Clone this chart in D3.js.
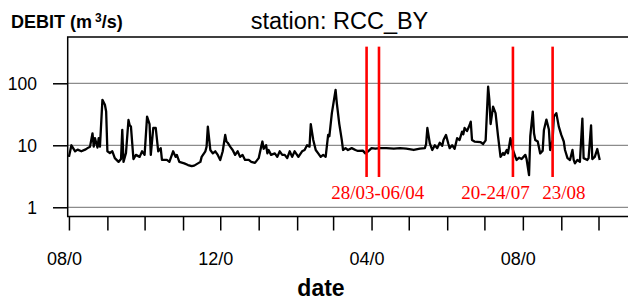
<!DOCTYPE html>
<html>
<head>
<meta charset="utf-8">
<script src="https://cdn.jsdelivr.net/npm/d3@7"></script>
<style>
  html, body { margin: 0; padding: 0; background: #fff; }
  svg { display: block; }
</style>
</head>
<body>
<svg id="chart" width="628" height="301"></svg>
<script>
'use strict';

// Daily flow at station RCC_BY
// days = offset in days from startDate, flow = m3/s
const startDate = '2007-08-01';
const days = [
  0, 2, 5, 7, 10, 13, 15, 17, 19, 20, 21, 23, 24, 25, 27, 29, 30, 31, 33, 35,
  37, 40, 42, 43, 44, 46, 48, 49, 50, 52, 54, 57, 59, 61, 63, 65, 66, 68, 70, 72,
  74, 75, 79, 81, 84, 86, 87, 89, 93, 96, 99, 101, 106, 107, 110, 111, 112, 114, 116, 118,
  120, 122, 124, 126, 127, 128, 130, 132, 134, 136, 138, 140, 142, 145, 147, 150, 153, 155, 156, 157,
  159, 160, 161, 163, 166, 168, 170, 172, 174, 176, 178, 180, 182, 185, 188, 190, 192, 194, 195, 197,
  199, 201, 203, 205, 207, 209, 210, 212, 215, 216, 218, 220, 221, 223, 225, 228, 231, 233, 237, 239,
  241, 244, 247, 251, 256, 262, 267, 272, 278, 283, 287, 288, 289, 291, 293, 295, 297, 299, 301, 302,
  304, 306, 307, 309, 311, 313, 315, 317, 318, 319, 321, 323, 324, 325, 327, 332, 334, 336, 338, 339,
  340, 342, 344, 346, 348, 350, 351, 353, 354, 356, 358, 360, 361, 363, 365, 368, 369, 371, 372, 374,
  375, 376, 378, 380, 382, 383, 385, 387, 388, 390, 391, 393, 395, 397, 399, 400, 402, 404, 406, 407,
  408, 410, 412, 414, 415, 418, 419, 421, 422, 424, 426, 428
];
const flow = [
  6.5, 10, 8, 8.5, 8, 8.5, 9, 9.5, 15.6, 9.5, 13, 9.2, 13, 9.5, 54, 45, 35, 8, 7.5, 8,
  6.2, 5.4, 6, 17.7, 5.4, 7.5, 25.6, 21, 20, 6, 7, 6.5, 8, 7, 29, 22, 7, 19, 19, 8,
  9, 5.8, 5.8, 5.4, 8, 6.5, 7, 5.4, 5.1, 4.8, 4.6, 4.7, 5.4, 6.5, 8, 9.5, 20, 8.4, 7.4, 8,
  7, 5.8, 8, 14.7, 11.5, 11, 9.5, 8.4, 7, 8, 6.5, 7, 5.8, 5.8, 5.4, 5.2, 6.2, 9.5, 11.5, 8.8,
  10, 7.4, 8.4, 7, 7.4, 6.5, 8, 7, 7, 6.2, 8, 6.5, 8, 6.5, 8, 8.4, 10, 9.5, 22, 12.2,
  8.4, 7.4, 6.5, 7, 6.5, 14.7, 14, 33, 78, 48, 22, 12.2, 8.4, 9, 8.4, 9, 8.4, 8.1, 8.2, 7.4,
  7.9, 9, 8.8, 9, 9, 8.8, 9, 8.8, 8.4, 8.8, 9, 10.5, 19, 10.7, 8.4, 10, 9, 11, 9.8, 12.2,
  14.7, 10.5, 9, 10, 8.8, 13, 12.2, 16.6, 15, 19, 17, 21, 24, 12.2, 11.5, 11.2, 10.5, 12, 88, 54,
  22, 42, 33, 14, 6.5, 7.5, 7, 8.4, 7.4, 13, 8.4, 6.5, 5.8, 6.3, 6, 7, 6, 3.3, 14, 35,
  15.6, 12.2, 11.5, 7.4, 8.2, 17.7, 26, 18, 8.4, 12.2, 29, 33, 20, 14.7, 11.5, 8.4, 6.2, 5.8, 8.4, 5.8,
  5.1, 5.8, 5.4, 27, 6.2, 5.8, 6.2, 21, 6, 6.5, 8.7, 5.8
];

// event markers (red lines) and their labels
const eventDates = ['2008-03-28', '2008-04-07', '2008-07-24', '2008-08-25'];
const eventLabels = ['28/03-06/04', '20-24/07', '23/08'];
const eventLabelDates = ['2008-04-06', '2008-07-10', '2008-09-03'];

// axis ticks
const yTicks = [1, 10, 100];
const xTickLabels = ['08/0', '12/0', '04/0', '08/0'];

const parse = d3.utcParse('%Y-%m-%d');
const t0 = parse(startDate);
const data = days.map((d, i) => ({date: d3.utcDay.offset(t0, d), value: flow[i]}));

const svg = d3.select('#chart');
const W = 628;
const plotLeft = 67.7, plotTop = 37, plotBottom = 216.5, plotRight = W + 20;

const x = d3.scaleUtc()
  .domain([parse('2007-07-31'), parse('2008-10-01')])
  .range([plotLeft, 598.5]);

const y = d3.scaleLog()
  .domain([0.71, 558])
  .range([plotBottom, plotTop]);

// grid lines
svg.append('g')
  .selectAll('line')
  .data(yTicks)
  .join('line')
  .attr('x1', plotLeft).attr('x2', plotRight)
  .attr('y1', d => y(d)).attr('y2', d => y(d))
  .attr('stroke', '#8c8c8c')
  .attr('stroke-width', 1.3);

// flow line
const line = d3.line()
  .x(d => x(d.date))
  .y(d => y(d.value));

svg.append('path')
  .datum(data)
  .attr('d', line)
  .attr('fill', 'none')
  .attr('stroke', '#000')
  .attr('stroke-width', 2.3)
  .attr('stroke-linejoin', 'round');

// red event lines
svg.append('g')
  .selectAll('line')
  .data(eventDates.map(parse))
  .join('line')
  .attr('x1', d => x(d)).attr('x2', d => x(d))
  .attr('y1', y(390)).attr('y2', y(3.08))
  .attr('stroke', '#ff0000')
  .attr('stroke-width', 2.6);

svg.append('g')
  .selectAll('text')
  .data(eventLabels)
  .join('text')
  .attr('x', (d, i) => x(parse(eventLabelDates[i])))
  .attr('y', 198.5)
  .attr('text-anchor', 'middle')
  .attr('fill', '#ff0000')
  .style('font-family', '"Liberation Serif", "Times New Roman", serif')
  .style('font-size', '19px')
  .text(d => d);

// plot box (right side runs off the picture)
svg.append('path')
  .attr('d', `M${plotRight},${plotTop}H${plotLeft}V${plotBottom}H${plotRight}`)
  .attr('fill', 'none')
  .attr('stroke', '#000')
  .attr('stroke-width', 1.5);

// y axis
const yAxis = svg.append('g')
  .attr('transform', `translate(${plotLeft},0)`)
  .call(d3.axisLeft(y).tickValues(yTicks).tickSize(14.7).tickPadding(16).tickFormat(d3.format('d')));
yAxis.select('.domain').remove();
yAxis.selectAll('line').attr('stroke-width', 1.5);
yAxis.selectAll('text')
  .attr('dy', '0.36em')
  .style('font-family', '"Liberation Sans", Arial, sans-serif')
  .style('font-size', '17.5px')
  .attr('fill', '#000');

// x axis, monthly ticks
const months = d3.utcMonth.range(parse('2007-08-01'), parse('2008-10-02'));
const xAxis = svg.append('g')
  .attr('transform', `translate(0,${plotBottom + 0.5})`)
  .call(d3.axisBottom(x).tickValues(months).tickSize(13.5).tickFormat(''));
xAxis.select('.domain').remove();
xAxis.selectAll('line').attr('stroke-width', 1.5);

svg.append('g')
  .selectAll('text')
  .data(months.filter((d, i) => i % 4 === 0))
  .join('text')
  .attr('x', d => x(d) - 22)
  .attr('y', 265)
  .style('font-family', '"Liberation Sans", Arial, sans-serif')
  .style('font-size', '18px')
  .text((d, i) => xTickLabels[i]);

// titles
svg.append('text')
  .attr('x', 339.5)
  .attr('y', 29)
  .attr('text-anchor', 'middle')
  .style('font-family', '"Liberation Sans", Arial, sans-serif')
  .style('font-size', '23.5px')
  .text('station: RCC_BY');

const ylab = svg.append('text')
  .attr('x', 11)
  .attr('y', 28)
  .style('font-family', '"Liberation Sans", Arial, sans-serif')
  .style('font-size', '18px')
  .style('font-weight', 'bold');
ylab.append('tspan').text('DEBIT (m');
ylab.append('tspan').attr('dx', 3).attr('dy', -6).style('font-size', '12px').text('3');
ylab.append('tspan').attr('dy', 6).text('/s)');

svg.append('text')
  .attr('x', 321)
  .attr('y', 296)
  .attr('text-anchor', 'middle')
  .style('font-family', '"Liberation Sans", Arial, sans-serif')
  .style('font-size', '23px')
  .style('font-weight', 'bold')
  .text('date');
</script>
</body>
</html>
